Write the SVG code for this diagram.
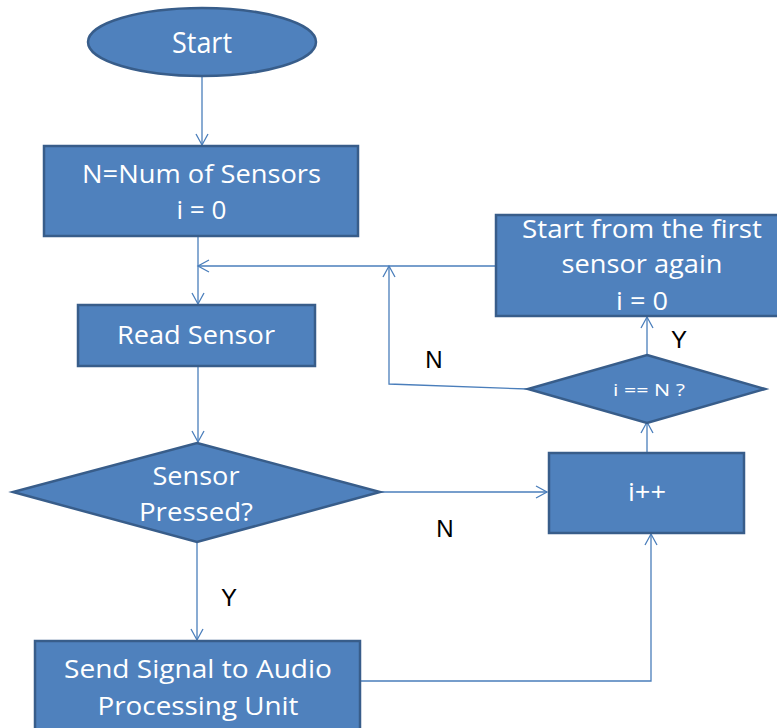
<svg xmlns="http://www.w3.org/2000/svg" width="777" height="728" viewBox="0 0 777 728">
<defs>
<style>
.n{fill:#4F81BD;stroke:#385D8A;stroke-width:2.5}
.t{fill:#fff;font-family:"Open Sans","Liberation Sans",Arial,sans-serif;font-size:26px;text-anchor:middle}
.c{fill:none;stroke:#4A7EBB;stroke-width:1.3}
.l{fill:#000;font-family:"Liberation Sans",Arial,sans-serif;font-size:24px;text-anchor:middle}
</style>
<marker id="a" markerWidth="14" markerHeight="14" refX="12" refY="7" orient="auto" markerUnits="userSpaceOnUse">
<path d="M1,1 L12,7 L1,13" fill="none" stroke="#4A7EBB" stroke-width="1.3"/>
</marker>
</defs>
<g id="connectors">
<path class="c" d="M202,76 L202,145" marker-end="url(#a)"/>
<path class="c" d="M198,236 L198,304" marker-end="url(#a)"/>
<path class="c" d="M495,266 L198,266" marker-end="url(#a)"/>
<path class="c" d="M198,366 L198,442" marker-end="url(#a)"/>
<path class="c" d="M380,492 L547,492" marker-end="url(#a)"/>
<path class="c" d="M197,542 L197,640" marker-end="url(#a)"/>
<path class="c" d="M360,681 L651,681 L651,534" marker-end="url(#a)"/>
<path class="c" d="M647,453 L647,422" marker-end="url(#a)"/>
<path class="c" d="M647,354 L647,317" marker-end="url(#a)"/>
<path class="c" d="M528,389 L389,384 L389,266" marker-end="url(#a)"/>
<text class="l" x="434" y="368">N</text>
<text class="l" x="445" y="537">N</text>
<text class="l" x="679" y="348">Y</text>
<text class="l" x="229" y="606">Y</text>
</g>
<g id="start">
<ellipse class="n" cx="202" cy="42" rx="114" ry="34"/>
<text class="t" x="202" y="53" style="font-size:29px" textLength="60" lengthAdjust="spacingAndGlyphs">Start</text>
</g>
<g id="init">
<rect class="n" x="44" y="146" width="314" height="90"/>
<text class="t" x="201.5" y="183" textLength="239" lengthAdjust="spacingAndGlyphs">N=Num of Sensors</text>
<text class="t" x="201.5" y="219" textLength="50" lengthAdjust="spacingAndGlyphs">i = 0</text>
</g>
<g id="read">
<rect class="n" x="78" y="305" width="237" height="61"/>
<text class="t" x="196" y="344" textLength="158" lengthAdjust="spacingAndGlyphs">Read Sensor</text>
</g>
<g id="pressed">
<polygon class="n" points="197,443 380,492 197,542 13,492"/>
<text class="t" x="196" y="485" textLength="87" lengthAdjust="spacingAndGlyphs">Sensor</text>
<text class="t" x="196" y="521" textLength="114" lengthAdjust="spacingAndGlyphs">Pressed?</text>
</g>
<g id="inc">
<rect class="n" x="549" y="453" width="195" height="80"/>
<text class="t" x="647" y="501" textLength="38" lengthAdjust="spacingAndGlyphs">i++</text>
</g>
<g id="check">
<polygon class="n" points="647,355 765,389 647,423 528,389"/>
<text class="t" x="649" y="396" style="font-size:17px" textLength="72" lengthAdjust="spacingAndGlyphs">i == N ?</text>
</g>
<g id="reset">
<rect class="n" x="496" y="215" width="294" height="101"/>
<text class="t" x="642" y="238" textLength="240" lengthAdjust="spacingAndGlyphs">Start from the first</text>
<text class="t" x="642" y="273" textLength="161" lengthAdjust="spacingAndGlyphs">sensor again</text>
<text class="t" x="642" y="310" textLength="52" lengthAdjust="spacingAndGlyphs">i = 0</text>
</g>
<g id="send">
<rect class="n" x="35" y="641" width="325" height="100"/>
<text class="t" x="198" y="678" textLength="268" lengthAdjust="spacingAndGlyphs">Send Signal to Audio</text>
<text class="t" x="198" y="715" textLength="201" lengthAdjust="spacingAndGlyphs">Processing Unit</text>
</g>
</svg>
